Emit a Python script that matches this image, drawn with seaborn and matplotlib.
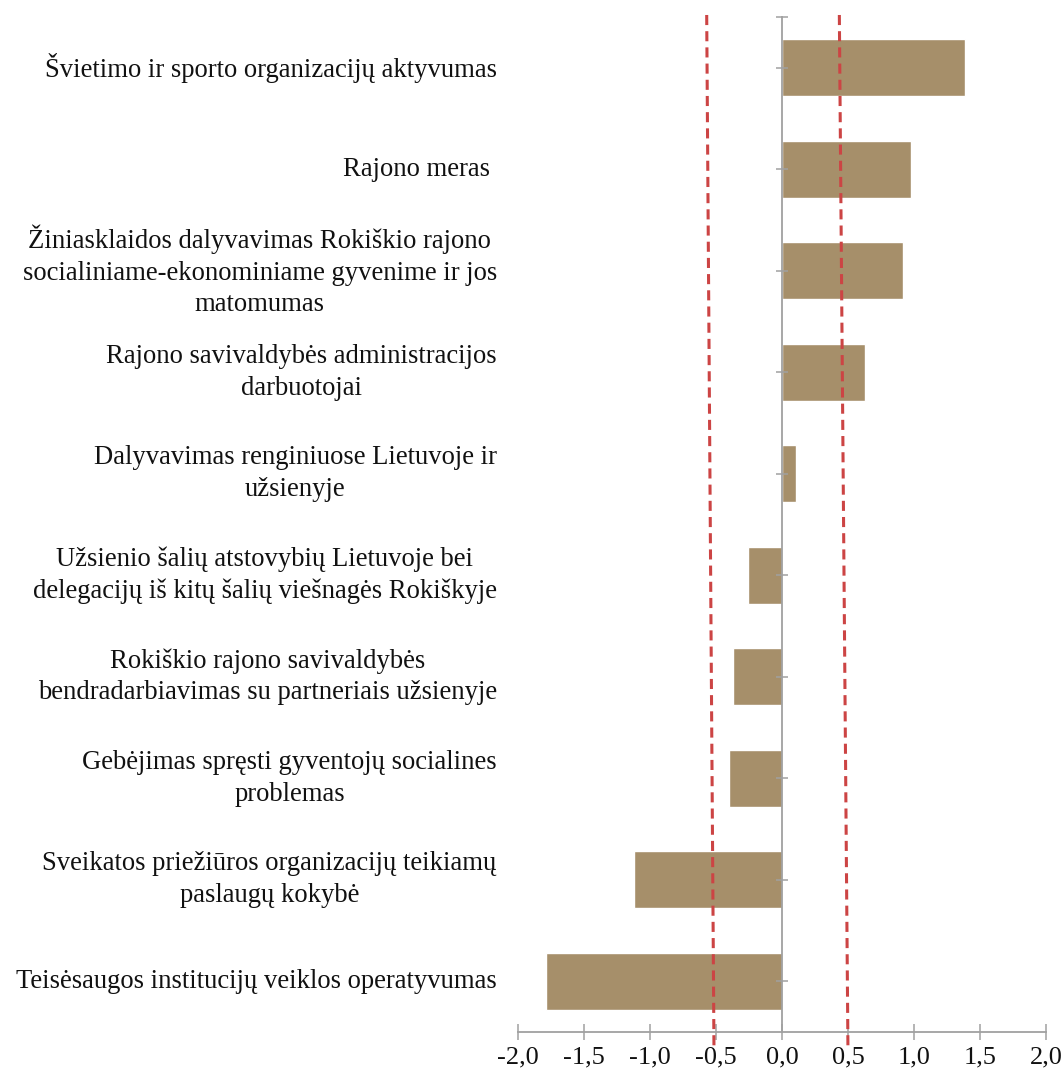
import matplotlib
matplotlib.use("Agg")
import matplotlib.pyplot as plt
import matplotlib.transforms as mtransforms
import pandas as pd
import seaborn as sns

categories = [
    "Švietimo ir sporto organizacijų aktyvumas",
    "Rajono meras ",
    "Žiniasklaidos dalyvavimas Rokiškio rajono\nsocialiniame-ekonominiame gyvenime ir jos\nmatomumas",
    "Rajono savivaldybės administracijos\ndarbuotojai",
    "Dalyvavimas renginiuose Lietuvoje ir\nužsienyje",
    "Užsienio šalių atstovybių Lietuvoje bei\ndelegacijų iš kitų šalių viešnagės Rokiškyje",
    "Rokiškio rajono savivaldybės\nbendradarbiavimas su partneriais užsienyje",
    "Gebėjimas spręsti gyventojų socialines\nproblemas",
    "Sveikatos priežiūros organizacijų teikiamų\npaslaugų kokybė",
    "Teisėsaugos institucijų veiklos operatyvumas",
]
values = [1.39, 0.98, 0.92, 0.63, 0.11, -0.26, -0.37, -0.40, -1.12, -1.79]

# reference lines (slightly slanted in the original)
lower_line_x = [-0.57, -0.515]
upper_line_x = [0.435, 0.50]
line_y = [-0.52, 9.64]

x_ticks = [-2.0, -1.5, -1.0, -0.5, 0.0, 0.5, 1.0, 1.5, 2.0]

df = pd.DataFrame({"category": categories, "value": values})

sns.set_style("white")
plt.rcParams["font.family"] = ["Liberation Serif", "DejaVu Serif"]

fig = plt.figure(figsize=(10.64, 10.77), dpi=100)
ax = fig.add_axes([0.4868, 0.0418, 0.4962, 0.9424])

sns.barplot(data=df, x="value", y="category", orient="h", color="#A68F6A",
            saturation=1, width=0.56, ax=ax)

ax.set_xlim(-2, 2)
ax.set_ylim(9.5, -0.5)
ax.set_axisbelow(False)

for xs in (lower_line_x, upper_line_x):
    ax.plot(xs, line_y, color="#CC4444", linestyle=(0, (3.3, 2.0)),
            linewidth=2.2, clip_on=False, zorder=5)

axis_gray = "#A0A0A0"
for side in ("top", "right"):
    ax.spines[side].set_visible(False)
ax.spines["left"].set_position(("data", 0))
ax.spines["left"].set_color(axis_gray)
ax.spines["bottom"].set_color(axis_gray)
ax.spines["left"].set_linewidth(1.3)
ax.spines["bottom"].set_linewidth(1.3)

ax.set_xticks(x_ticks)
ax.set_xticklabels([f"{t:.1f}".replace(".", ",") for t in x_ticks])
ax.tick_params(axis="x", bottom=True, direction="inout", length=11, width=1.1,
               color=axis_gray, labelsize=19, labelcolor="#111111", pad=5)

ax.set_yticks(range(len(categories)))
ax.set_yticks([-0.5], minor=True)
ax.tick_params(axis="y", which="both", left=True, direction="inout", length=8,
               width=1.1, color=axis_gray, labelleft=False)

ax.set_xlabel("")
ax.set_ylabel("")

trans = mtransforms.blended_transform_factory(ax.transAxes, ax.transData)
for i, label in enumerate(categories):
    ax.text(-0.04, i, label, transform=trans, ha="right", va="center",
            multialignment="center", fontsize=19.2, color="#111111",
            linespacing=1.35)

fig.savefig("out.png", dpi=100)
